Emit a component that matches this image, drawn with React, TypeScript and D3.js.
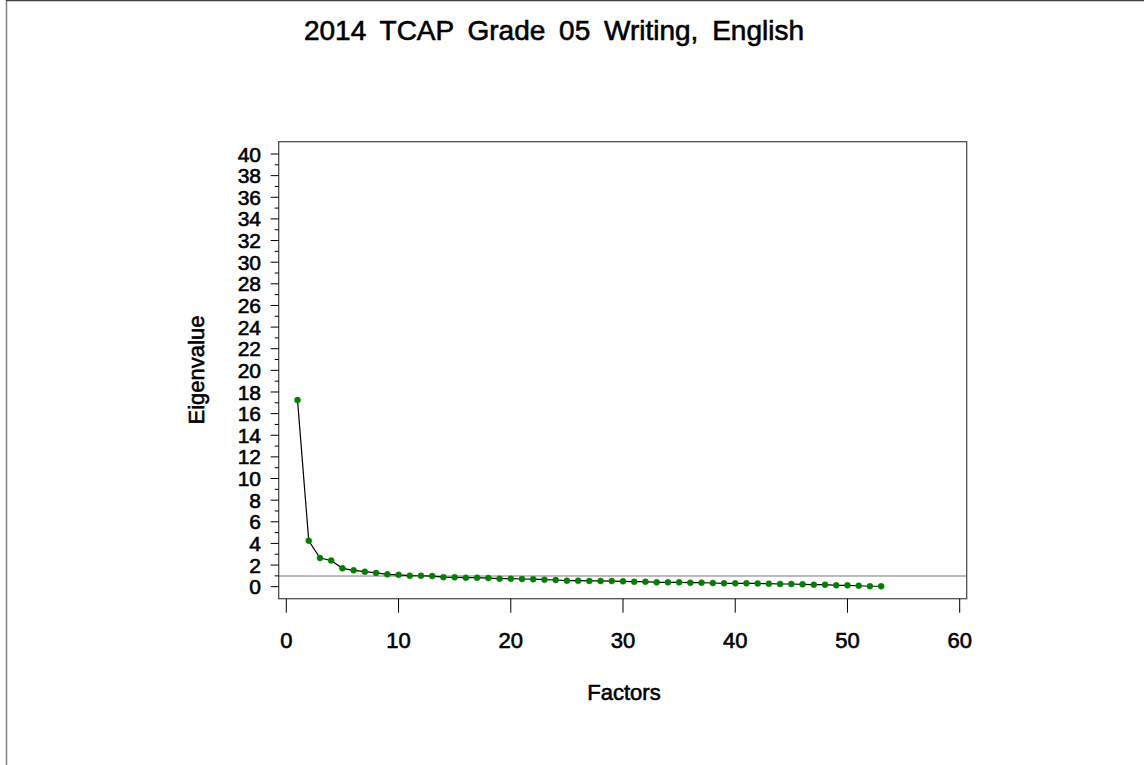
import React from "react";
import * as d3 from "d3";

const titleText = "2014 TCAP Grade 05 Writing, English";
const xLabel = "Factors";
const yLabel = "Eigenvalue";
const factors = d3.range(1, 54);
const eigenvalues = [
  17.25, 4.25, 2.65, 2.42, 1.7, 1.51, 1.39, 1.27, 1.14, 1.1,
  1.02, 1.01, 0.98, 0.88, 0.87, 0.83, 0.83, 0.8, 0.74, 0.74,
  0.71, 0.7, 0.65, 0.62, 0.56, 0.56, 0.53, 0.53, 0.52, 0.5,
  0.46, 0.46, 0.4, 0.4, 0.4, 0.37, 0.37, 0.34, 0.31, 0.31,
  0.31, 0.3, 0.28, 0.25, 0.25, 0.22, 0.19, 0.19, 0.13, 0.13,
  0.09, 0.04, 0.04,
];
const xTicks = [0, 10, 20, 30, 40, 50, 60];
const yTicks = d3.range(0, 41, 2);
const yMinorTicks = d3.range(1, 40, 2);
const referenceValue = 1;

const W = 1144;
const H = 765;
const frame = { left: 278.7, right: 966.7, top: 141.7, bottom: 598.7 };
const font = "'Liberation Sans', Arial, sans-serif";
const heavy = { stroke: "#000", strokeWidth: 0.6 };

export default function App() {
  const x = d3.scaleLinear().domain([0, 60]).range([286.3, 959.7]);
  const y = d3.scaleLinear().domain([0, 40]).range([586.7, 154]);
  const pts: [number, number][] = factors.map((f, i) => [f, eigenvalues[i]]);
  const line = d3
    .line<[number, number]>()
    .x((d) => x(d[0]))
    .y((d) => y(d[1]));

  return (
    <svg
      width={W}
      height={H}
      style={{ position: "absolute", left: 0, top: 0, background: "#fff" }}
      fontFamily={font}
    >
      <rect x={0} y={0} width={W} height={H} fill="#fff" />
      {/* outer border */}
      <line x1={6.5} y1={0} x2={6.5} y2={H} stroke="#808080" strokeWidth={1.5} />
      <line x1={6} y1={0.5} x2={W} y2={0.5} stroke="#404040" strokeWidth={1.5} />

      <text
        x={554}
        y={40}
        textAnchor="middle"
        fontSize={28}
        wordSpacing={6}
        fill="#000"
        {...heavy}
      >
        {titleText}
      </text>

      {/* reference line */}
      <line
        x1={frame.left}
        x2={frame.right}
        y1={y(referenceValue)}
        y2={y(referenceValue)}
        stroke="#bdbdbd"
        strokeWidth={2}
      />

      {/* frame */}
      <rect
        x={frame.left}
        y={frame.top}
        width={frame.right - frame.left}
        height={frame.bottom - frame.top}
        fill="none"
        stroke="#505050"
        strokeWidth={1.3}
      />

      {/* y ticks */}
      {yTicks.map((t) => (
        <g key={"y" + t}>
          <line x1={frame.left - 8} x2={frame.left} y1={y(t)} y2={y(t)} stroke="#000" strokeWidth={1} />
          <text
            x={261}
            y={y(t)}
            dy="0.36em"
            textAnchor="end"
            fontSize={21}
            fill="#000"
            {...heavy}
          >
            {t}
          </text>
        </g>
      ))}
      {yMinorTicks.map((t) => (
        <line key={"ym" + t} x1={frame.left - 4} x2={frame.left} y1={y(t)} y2={y(t)} stroke="#000" strokeWidth={1} />
      ))}

      {/* x ticks */}
      {xTicks.map((t) => (
        <g key={"x" + t}>
          <line x1={x(t)} x2={x(t)} y1={frame.bottom} y2={frame.bottom + 14} stroke="#000" strokeWidth={1} />
          <text x={x(t)} y={648} textAnchor="middle" fontSize={22} fill="#000" {...heavy}>
            {t}
          </text>
        </g>
      ))}

      <text x={624} y={700} textAnchor="middle" fontSize={22} fill="#000" {...heavy}>
        {xLabel}
      </text>
      <text
        transform={`translate(204,370) rotate(-90)`}
        textAnchor="middle"
        fontSize={22}
        fill="#000"
        {...heavy}
      >
        {yLabel}
      </text>

      {/* data */}
      <path d={line(pts) || ""} fill="none" stroke="#000" strokeWidth={1.2} />
      {pts.map((p, i) => (
        <circle key={i} cx={x(p[0])} cy={y(p[1])} r={3} fill="#008000" stroke="#0a7a0a" strokeWidth={0.5} />
      ))}
    </svg>
  );
}
